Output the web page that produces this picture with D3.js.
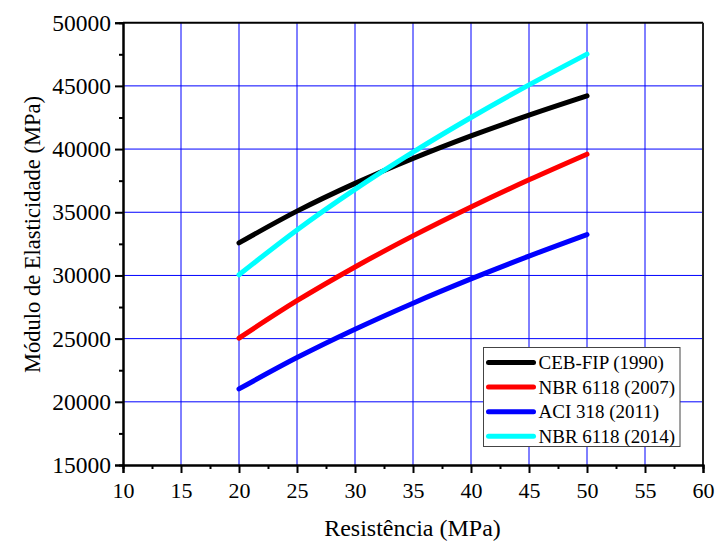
<!DOCTYPE html>
<html>
<head>
<meta charset="utf-8">
<script src="https://cdn.jsdelivr.net/npm/d3@7"></script>
<style>
  html, body { margin: 0; padding: 0; background: #fff; }
  svg { display: block; }
  text { font-family: "Liberation Serif", "Times New Roman", serif; fill: #000; }
</style>
</head>
<body>
<svg id="chart" width="717" height="543"></svg>
<script>
// Strength classes (fck, MPa)
const fck = [20, 25, 30, 35, 40, 45, 50];

// Modulus of elasticity (MPa) by code
const cebFip1990 = [32573, 35088, 37287, 39253, 41041, 42683, 44208];
const nbr2007    = [25044, 28000, 30672, 33130, 35418, 37566, 39598];
const aci2011    = [21019, 23500, 25743, 27806, 29725, 31529, 33234];
const nbr2014    = [30053, 33600, 36807, 39756, 42501, 45079, 47518];

const seriesNames  = ["CEB-FIP (1990)", "NBR 6118 (2007)", "ACI 318 (2011)", "NBR 6118 (2014)"];
const seriesValues = [cebFip1990, nbr2007, aci2011, nbr2014];
const seriesColors = ["#000000", "#ff0000", "#0000ff", "#00ffff"];

const xTicks = [10, 15, 20, 25, 30, 35, 40, 45, 50, 55, 60];
const yTicks = [15000, 20000, 25000, 30000, 35000, 40000, 45000, 50000];

const svg = d3.select("#chart");
const L = 123, R = 703, T = 22.7, B = 465;

const x = d3.scaleLinear().domain([10, 60]).range([L, R]);
const y = d3.scaleLinear().domain([15000, 50000]).range([B, T]);

// grid
const grid = svg.append("g");
grid.selectAll(".gx").data(xTicks.slice(1, -1)).join("line")
  .attr("x1", d => x(d)).attr("x2", d => x(d))
  .attr("y1", T).attr("y2", B)
  .attr("stroke", "#0000ff").attr("stroke-width", 1);
grid.selectAll(".gy").data(yTicks.slice(1, -1)).join("line")
  .attr("x1", L).attr("x2", R)
  .attr("y1", d => y(d)).attr("y2", d => y(d))
  .attr("stroke", "#0000ff").attr("stroke-width", 1);

// frame: top and right edges
svg.append("line").attr("x1", L).attr("x2", R).attr("y1", T).attr("y2", T)
  .attr("stroke", "#000").attr("stroke-width", 2);
svg.append("line").attr("x1", R).attr("x2", R).attr("y1", T).attr("y2", B)
  .attr("stroke", "#222").attr("stroke-width", 2);

// axes
const xAxis = d3.axisBottom(x).tickValues(xTicks).tickSize(8).tickPadding(9).tickFormat(d3.format("d"));
const xMinor = d3.axisBottom(x).tickValues(d3.range(12.5, 60, 5)).tickSize(4).tickFormat("");
const yAxis = d3.axisLeft(y).tickValues(yTicks).tickSize(8).tickPadding(4).tickFormat(d3.format("d"));
const yMinor = d3.axisLeft(y).tickValues(d3.range(17500, 50000, 5000)).tickSize(4).tickFormat("");

function styleAxis(g, size) {
  g.select(".domain").attr("stroke", "#000").attr("stroke-width", 2);
  g.selectAll(".tick line").attr("stroke", "#000").attr("stroke-width", 2);
  g.selectAll(".tick text")
    .style("font-family", '"Liberation Serif", "Times New Roman", serif')
    .style("font-size", size + "px").attr("fill", "#000");
}

svg.append("g").attr("transform", `translate(0,${B})`).call(xMinor).call(styleAxis, 22);
svg.append("g").attr("transform", `translate(${L},0)`).call(yMinor).call(styleAxis, 23.5);
svg.append("g").attr("transform", `translate(0,${B})`).call(xAxis).call(styleAxis, 22);
svg.append("g").attr("transform", `translate(${L},0)`).call(yAxis).call(styleAxis, 23.5);

// axis titles
svg.append("text")
  .attr("x", 412.5).attr("y", 535.5)
  .attr("text-anchor", "middle")
  .style("font-size", "24px")
  .text("Resistência (MPa)");
svg.append("text")
  .attr("transform", "translate(40,234.5) rotate(-90)")
  .attr("text-anchor", "middle")
  .style("font-size", "22.5px")
  .text("Módulo de Elasticidade (MPa)");

// series curves
const line = d3.line()
  .x((d, i) => x(fck[i]))
  .y(d => y(d))
  .curve(d3.curveMonotoneX);

svg.append("g").selectAll("path").data(seriesValues).join("path")
  .attr("d", d => line(d))
  .attr("fill", "none")
  .attr("stroke", (d, i) => seriesColors[i])
  .attr("stroke-width", 5)
  .attr("stroke-linecap", "round")
  .attr("stroke-linejoin", "round");

// legend
const lg = svg.append("g").attr("transform", "translate(483.5,347.5)");
lg.append("rect").attr("width", 196.5).attr("height", 99)
  .attr("fill", "#fff").attr("stroke", "#444").attr("stroke-width", 1);
const item = lg.selectAll("g").data(seriesNames).join("g")
  .attr("transform", (d, i) => `translate(0,${15 + i * 24.6})`);
item.append("line")
  .attr("x1", 5).attr("x2", 50)
  .attr("stroke", (d, i) => seriesColors[i])
  .attr("stroke-width", 5).attr("stroke-linecap", "round");
item.append("text")
  .attr("x", 55).attr("y", 6.5)
  .style("font-size", "19px")
  .text(d => d);
</script>
</body>
</html>
